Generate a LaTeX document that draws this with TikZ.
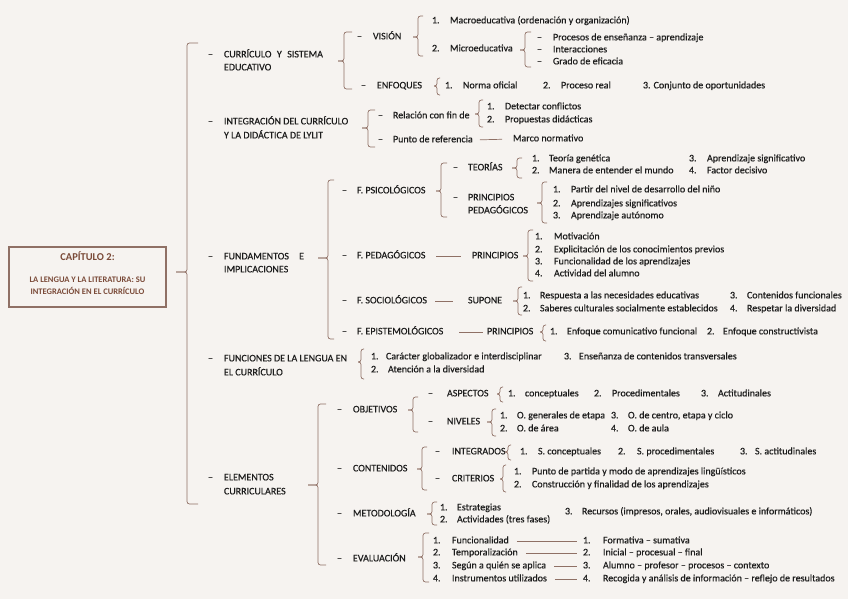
\documentclass[tikz,border=0pt]{standalone}
\usepackage{fontspec}
\setmainfont{Carlito}
\newfontfamily\rgfont{Carlito}[FakeBold=0.4]
\definecolor{bg}{HTML}{F6F3F0}
\definecolor{brn}{HTML}{8F7065}
\definecolor{ttx}{HTML}{1C1C1C}
\definecolor{boxtx}{HTML}{7A4A38}
\newcommand\fsz{\rgfont\fontsize{10}{12}\selectfont}
\newcommand\dsh[2][16pt]{\makebox[#1][l]{–}#2}
\newcommand\numi[3][18pt]{\makebox[#1][l]{#2}#3}
\newcommand\bracex[6]{%
 \draw[brc] ({#1+#5},#2) -- (#1,#2) -- (#1,#4) -- ({#1-#6},#4);
 \draw[brc] ({#1-#6},#4) -- (#1,#4) -- (#1,#3) -- ({#1+#5},#3);}
\tikzset{
 t/.style={anchor=mid west, inner sep=0pt, outer sep=0pt, font=\fsz, text=ttx},
 brc/.style={draw=brn, line width=0.7pt, rounded corners=2.5pt},
 ln/.style={draw=brn, line width=0.7pt},
 capbox/.style={draw=brn, line width=1.2pt, minimum width=157pt, minimum height=60pt, inner sep=0pt},
 captx/.style={anchor=mid, inner sep=0pt, text=boxtx, font=\bfseries\fontsize{8.5}{10}\selectfont}
}
\begin{document}
\begin{tikzpicture}[x=1pt,y=-1pt]
\useasboundingbox (0,0) rectangle (848,599);
\fill[bg] (0,0) rectangle (848,599);
% chapter box
\node[capbox] (cap) at (87.5,277) {};
\node[captx, font=\bfseries\fontsize{10.5}{12}\selectfont] (capt) at (87.5,258) {CAPÍTULO 2:};
\node[captx] (capl1) at (87.5,280) {LA LENGUA Y LA LITERATURA: SU};
\node[captx] (capl2) at (87.5,292) {INTEGRACIÓN EN EL CURRÍCULO};
\bracex{187}{43}{504}{272}{11}{11}
% level 1
\node[t] (n1a) at (208,55) {\dsh{\makebox[99pt][s]{CURRÍCULO Y SISTEMA}}};
\node[t] (n1b) at (224,68) {EDUCATIVO};
\node[t] (n2a) at (208,122) {\dsh{INTEGRACIÓN DEL CURRÍCULO}};
\node[t] (n2b) at (224,136) {Y LA DIDÁCTICA DE LYLIT};
\node[t] (n3a) at (208,257) {\dsh{\makebox[80pt][s]{FUNDAMENTOS E}}};
\node[t] (n3b) at (224,270) {IMPLICACIONES};
\node[t] (n4a) at (208,359) {\dsh{FUNCIONES DE LA LENGUA EN}};
\node[t] (n4b) at (224,373) {EL CURRÍCULO};
\node[t] (n5a) at (208,478) {\dsh{ELEMENTOS}};
\node[t] (n5b) at (224,492) {CURRICULARES};
% group 1
\bracex{344}{32}{89}{61}{8}{6}
\node[t] (vis) at (357,37) {\dsh{VISIÓN}};
\node[t] (enf) at (361,86) {\dsh{ENFOQUES}};
\bracex{418}{16}{56}{37}{5}{5}
\node[t] (mac) at (432,21) {\numi{1.}{Macroeducativa (ordenación y organización)}};
\node[t] (mic) at (432,49) {\numi{2.}{Microeducativa}};
\bracex{525}{32}{67}{50}{6}{5}
\node[t] (pr1) at (537,38) {\dsh{Procesos de enseñanza – aprendizaje}};
\node[t] (pr2) at (537,50) {\dsh{Interacciones}};
\node[t] (pr3) at (537,62) {\dsh{Grado de eficacia}};
\bracex{437}{78}{95}{86}{3}{3}
\node[t] (enf1) at (445,86) {\numi{1.}{Norma oficial}};
\node[t] (enf2) at (543,86) {\numi{2.}{Proceso real}};
\node[t] (enf3) at (643,86) {3. Conjunto de oportunidades};
% group 2
\bracex{368}{110}{147}{128}{7}{6}
\node[t] (rel) at (378,116) {\dsh[15pt]{Relación con fin de}};
\node[t] (pun) at (378,140) {\dsh[15pt]{Punto de referencia}};
\bracex{479}{100}{127}{114}{4}{4}
\node[t] (det) at (487,107) {\numi{1.}{Detectar conflictos}};
\node[t] (pro) at (487,120) {\numi{2.}{Propuestas didácticas}};
\node[t] (mar) at (513,139) {Marco normativo};
\draw[ln, shorten <=7pt, shorten >=11pt] (pun.mid east) -- (mar.mid west);
% group 3
\bracex{328}{180}{339}{258}{6}{10}
\node[t] (psi) at (342,191) {\dsh[15pt]{F. PSICOLÓGICOS}};
\node[t] (ped) at (342,256) {\dsh[15pt]{F. PEDAGÓGICOS}};
\node[t] (soc) at (342,301) {\dsh[15pt]{F. SOCIOLÓGICOS}};
\node[t] (epi) at (342,332) {\dsh[15pt]{F. EPISTEMOLÓGICOS}};
\bracex{441}{163}{217}{191}{6}{5}
\node[t] (teo) at (453,168) {\dsh[15pt]{TEORÍAS}};
\node[t] (pri) at (453,198) {\dsh[15pt]{PRINCIPIOS}};
\node[t] (prib) at (468,211) {PEDAGÓGICOS};
\bracex{517}{158}{178}{168}{5}{5}
\node[t] (t1) at (532,159) {\numi[17pt]{1.}{Teoría genética}};
\node[t] (t2) at (532,171) {\numi[17pt]{2.}{Manera de entender el mundo}};
\node[t] (t3) at (689,159) {\numi{3.}{Aprendizaje significativo}};
\node[t] (t4) at (689,171) {\numi{4.}{Factor decisivo}};
\bracex{542}{182}{223}{203}{5}{5}
\node[t] (pp1) at (553,190) {\numi{1.}{Partir del nivel de desarrollo del niño}};
\node[t] (pp2) at (553,204) {\numi{2.}{Aprendizajes significativos}};
\node[t] (pp3) at (553,216) {\numi{3.}{Aprendizaje autónomo}};
\node[t] (pprin) at (472,256) {PRINCIPIOS};
\draw[ln, shorten <=11pt, shorten >=11pt] (ped.mid east) -- (pprin.mid west);
\bracex{528}{230}{281}{256}{5}{5}
\node[t] (pd1) at (535,237) {\numi[19pt]{1.}{Motivación}};
\node[t] (pd2) at (535,250) {\numi[19pt]{2.}{Explicitación de los conocimientos previos}};
\node[t] (pd3) at (535,262) {\numi[19pt]{3.}{Funcionalidad de los aprendizajes}};
\node[t] (pd4) at (535,274) {\numi[19pt]{4.}{Actividad del alumno}};
\node[t] (sup) at (468,301) {SUPONE};
\draw[ln, shorten <=8pt, shorten >=15pt] (soc.mid east) -- (sup.mid west);
\bracex{518}{287}{315}{301}{4}{5}
\node[t] (s1) at (523,296) {\numi[17pt]{1.}{Respuesta a las necesidades educativas}};
\node[t] (s2) at (523,309) {\numi[17pt]{2.}{Saberes culturales socialmente establecidos}};
\node[t] (s3) at (730,296) {\numi[17pt]{3.}{Contenidos funcionales}};
\node[t] (s4) at (730,309) {\numi[17pt]{4.}{Respetar la diversidad}};
\node[t] (eprin) at (487,332) {PRINCIPIOS};
\draw[ln, shorten <=16pt, shorten >=4pt] (epi.mid east) -- (eprin.mid west);
\bracex{543}{325}{341}{332}{3}{3}
\node[t] (e1) at (550,332) {\numi[17pt]{1.}{Enfoque comunicativo funcional}};
\node[t] (e2) at (707,332) {\numi[16pt]{2.}{Enfoque constructivista}};
% group 4
\bracex{361}{349}{379}{362}{3}{3}
\node[t] (f1) at (371,357) {\numi[15pt]{1.}{Carácter globalizador e interdisciplinar}};
\node[t] (f2) at (371,370) {\numi[17pt]{2.}{Atención a la diversidad}};
\node[t] (f3) at (564,357) {\numi[15pt]{3.}{Enseñanza de contenidos transversales}};
% group 5
\bracex{318}{404}{565}{485}{8}{10}
\node[t] (obj) at (337,410) {\dsh{OBJETIVOS}};
\node[t] (con) at (337,469) {\dsh{CONTENIDOS}};
\node[t] (met) at (337,514) {\dsh{METODOLOGÍA}};
\node[t] (eva) at (337,559) {\dsh{EVALUACIÓN}};
\bracex{413}{397}{432}{410}{5}{5}
\node[t] (asp) at (428,394) {\dsh[19pt]{ASPECTOS}};
\node[t] (niv) at (428,422) {\dsh[19pt]{NIVELES}};
\bracex{500}{387}{402}{394}{3}{3}
\node[t] (a1) at (508,394) {\numi[17pt]{1.}{conceptuales}};
\node[t] (a2) at (594,394) {\numi{2.}{Procedimentales}};
\node[t] (a3) at (701,394) {\numi[17pt]{3.}{Actitudinales}};
\bracex{492}{409}{436}{422}{4}{5}
\node[t] (v1) at (500,416) {\numi[17pt]{1.}{O. generales de etapa}};
\node[t] (v2) at (500,429) {\numi[17pt]{2.}{O. de área}};
\node[t] (v3) at (611,416) {\numi[17pt]{3.}{O. de centro, etapa y ciclo}};
\node[t] (v4) at (611,429) {\numi[17pt]{4.}{O. de aula}};
\bracex{422}{447}{490}{469}{5}{5}
\node[t] (int) at (435,452) {\dsh[17pt]{INTEGRADOS}};
\node[t] (cri) at (435,479) {\dsh[17pt]{CRITERIOS}};
\bracex{508}{445}{460}{452}{3}{3}
\node[t] (i1) at (520,452) {\numi{1.}{S. conceptuales}};
\node[t] (i2) at (618,452) {\numi[19pt]{2.}{S. procedimentales}};
\node[t] (i3) at (740,452) {\numi[15pt]{3.}{S. actitudinales}};
\bracex{503}{465}{492}{479}{3}{3}
\node[t] (c1) at (514,472) {\numi{1.}{Punto de partida y modo de aprendizajes lingüísticos}};
\node[t] (c2) at (514,485) {\numi{2.}{Construcción y finalidad de los aprendizajes}};
\bracex{432}{502}{525}{514}{5}{5}
\node[t] (m1) at (440,508) {\numi[17pt]{1.}{Estrategias}};
\node[t] (m2) at (440,520) {\numi[17pt]{2.}{Actividades (tres fases)}};
\node[t] (m3) at (565,512) {\numi[17pt]{3.}{Recursos (impresos, orales, audiovisuales e informáticos)}};
\bracex{423}{533}{582}{557}{6}{5}
\node[t] (ev1) at (433,541) {\numi[19pt]{1.}{Funcionalidad}};
\node[t] (ev2) at (433,553) {\numi[19pt]{2.}{Temporalización}};
\node[t] (ev3) at (433,566) {\numi[19pt]{3.}{Según a quién se aplica}};
\node[t] (ev4) at (433,579) {\numi[19pt]{4.}{Instrumentos utilizados}};
\node[t] (ew1) at (583,541) {\numi[20pt]{1.}{Formativa – sumativa}};
\node[t] (ew2) at (583,553) {\numi[20pt]{2.}{Inicial – procesual – final}};
\node[t] (ew3) at (583,566) {\numi[20pt]{3.}{Alumno – profesor – procesos – contexto}};
\node[t] (ew4) at (583,579) {\numi[20pt]{4.}{Recogida y análisis de información – reflejo de resultados}};
\foreach \i in {1,2,3,4}{\draw[ln, shorten <=8pt, shorten >=6pt] (ev\i.mid east) -- (ew\i.mid west);}
\end{tikzpicture}
\end{document}
